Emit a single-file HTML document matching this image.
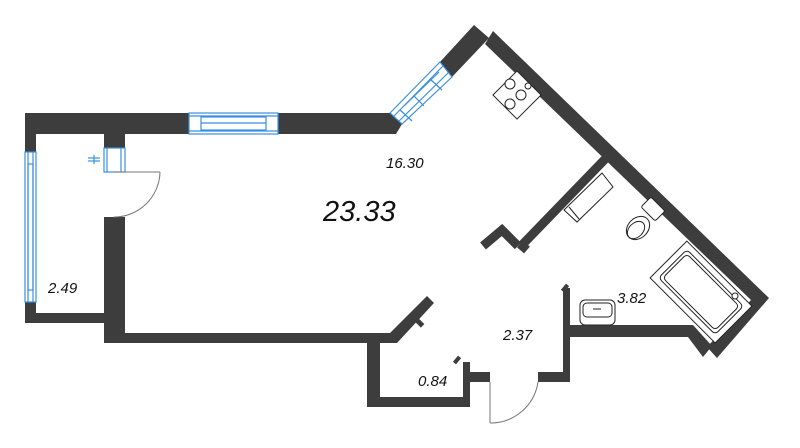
<!DOCTYPE html>
<html><head><meta charset="utf-8"><style>
html,body{margin:0;padding:0;background:#fff;}
svg{display:block}
text{font-family:"Liberation Sans",sans-serif;font-style:italic;fill:#111}
</style></head><body>
<svg width="800" height="448" viewBox="0 0 800 448" xmlns="http://www.w3.org/2000/svg">
<g fill="#3d3d3d" stroke="none">
<rect x="25" y="113" width="165" height="21"/>
<rect x="25" y="113" width="11" height="39"/>
<rect x="25" y="302" width="11" height="21"/>
<rect x="25" y="313" width="90" height="10"/>
<rect x="104" y="134" width="21" height="14"/>
<rect x="104" y="217" width="21" height="126"/>
<rect x="104" y="333" width="293" height="10"/>
<polygon points="278,113 390,113 402,124 396,134 278,134"/>
<polygon points="390,333 427,296 434,303 397,343"/>
<rect x="416" y="316" width="5" height="12" transform="rotate(-45 418 322)"/>
<polygon points="440,62 474,25 489,38 452,77"/>
<polygon points="493,31 769,298 717,358 707,347 751,300 485,44"/>
<polygon points="563,325 693,325 712,346 703,357 688,337 570,337 570,382 563,382"/>
<rect x="563" y="288" width="7" height="40"/>
<rect x="563" y="284" width="4" height="8" transform="rotate(40 565 288)"/>
<rect x="538" y="372" width="32" height="10"/>
<rect x="367" y="342" width="13" height="65"/>
<rect x="367" y="397" width="103" height="10"/>
<rect x="463" y="362" width="7" height="45"/>
<rect x="463" y="372" width="27" height="10"/>
<rect x="455" y="356" width="4" height="8" transform="rotate(40 457 360)"/>
</g>
<g stroke="#3d3d3d" stroke-width="9" fill="none" stroke-linejoin="miter">
<line x1="610" y1="154" x2="522" y2="245"/>
<polyline points="483,246 502,230 518,246"/>
<line x1="520" y1="244" x2="527" y2="250"/>
</g>
<line x1="606" y1="154" x2="612" y2="160" stroke="#3d3d3d" stroke-width="6"/>
<g stroke="#3a8fe0" stroke-width="1.2" fill="#fff">
<rect x="189" y="113" width="89" height="21"/>
<line x1="189" y1="116" x2="278" y2="116"/>
<line x1="189" y1="131" x2="278" y2="131"/>
<rect x="201" y="117" width="65" height="13" fill="none"/>
<line x1="201" y1="123" x2="266" y2="123"/>
<rect x="25" y="152" width="11" height="150"/>
<line x1="28" y1="152" x2="28" y2="302"/>
<line x1="33" y1="152" x2="33" y2="302"/>
<rect x="28" y="164" width="5" height="126" fill="none"/>
<polygon points="390,113 440,62 452,77 402,124"/>
<line x1="394" y1="116" x2="443" y2="66"/>
<line x1="399" y1="121" x2="449" y2="72"/>
<line x1="400" y1="110" x2="412" y2="121"/>
<line x1="430" y1="79" x2="442" y2="90"/>
<line x1="404" y1="106" x2="439" y2="72" />
<line x1="414" y1="96" x2="424" y2="106"/>
<rect x="104" y="148" width="21" height="24"/>
<line x1="107" y1="148" x2="107" y2="172"/>
<line x1="121" y1="148" x2="121" y2="172"/>
<line x1="88" y1="158" x2="100" y2="158"/>
<line x1="88" y1="161" x2="100" y2="161"/>
<line x1="94" y1="155" x2="94" y2="164"/>
</g>
<g stroke="#777" stroke-width="1" fill="none">
<line x1="114" y1="172" x2="160" y2="172"/>
<path d="M160,172 A46,46 0 0 1 114,217"/>
<line x1="490" y1="382" x2="490" y2="423"/>
<path d="M490,423 A48,48 0 0 0 538,382"/>
</g>
<g stroke="#222" stroke-width="1" fill="#fff">
<rect x="500" y="78" width="34" height="34" transform="rotate(45 517 95)"/>
<circle cx="510" cy="84" r="5"/><circle cx="521" cy="95" r="5"/><circle cx="510" cy="104" r="5"/><circle cx="528" cy="86" r="3"/>
<polygon points="602,173 613,187 577,222 564,210"/>
<line x1="569" y1="207" x2="579" y2="219"/>
<rect x="643" y="202" width="20" height="14" rx="2" transform="rotate(45 653 209)"/>
<ellipse cx="638" cy="228" rx="13" ry="10" transform="rotate(-45 638 228)"/>
<ellipse cx="636" cy="230" rx="10" ry="7" transform="rotate(-45 636 230)"/>
<rect x="655" y="266" width="92" height="52" transform="rotate(45 701 292)"/>
<rect x="661" y="272" width="80" height="40" rx="4" transform="rotate(45 701 292)" fill="none"/>
<rect x="664" y="275" width="74" height="34" rx="4" transform="rotate(45 701 292)" fill="none"/>
<circle cx="735" cy="296" r="3"/>
<rect x="580" y="300" width="35" height="25" rx="5"/>
<rect x="583" y="303" width="29" height="14" rx="4" fill="none"/>
<line x1="593" y1="309" x2="601" y2="309"/>
</g>
<text x="323" y="221" font-size="29">23.33</text>
<text x="386" y="168" font-size="15">16.30</text>
<text x="48" y="293" font-size="15">2.49</text>
<text x="503" y="340" font-size="15">2.37</text>
<text x="418" y="386" font-size="15">0.84</text>
<text x="617" y="303" font-size="15">3.82</text>
</svg>
</body></html>
